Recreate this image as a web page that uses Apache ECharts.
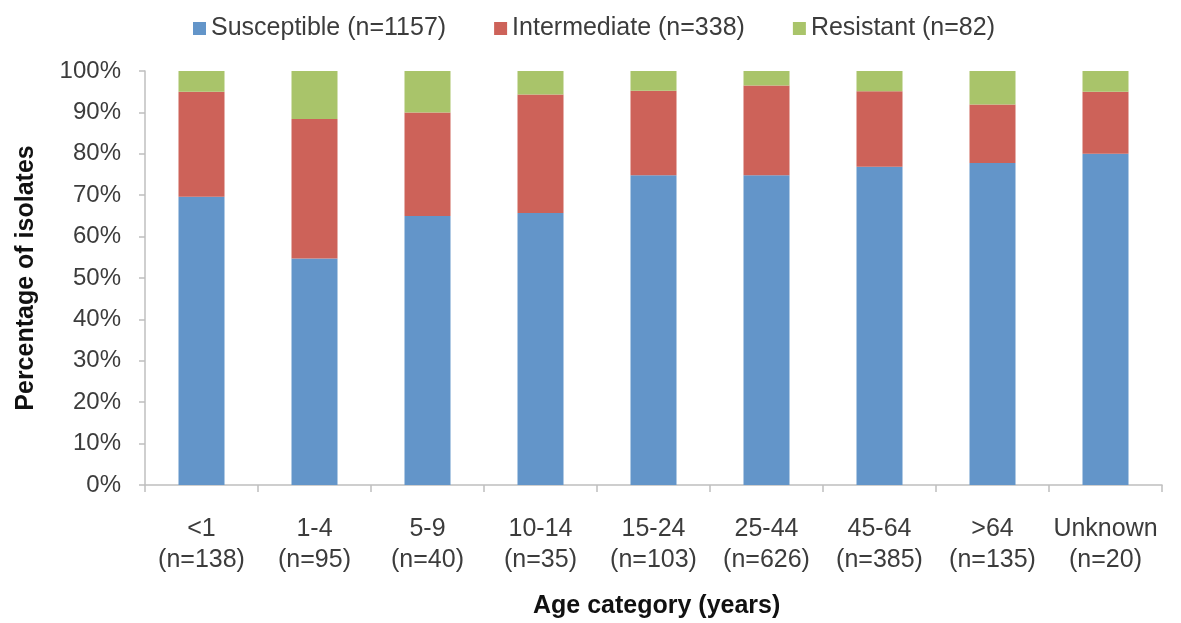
<!DOCTYPE html>
<html>
<head>
<meta charset="utf-8">
<script src="https://cdn.jsdelivr.net/npm/echarts@6/dist/echarts.min.js"></script>
<style>
  html, body { margin: 0; padding: 0; background: #ffffff; }
  #chart { width: 1181px; height: 623px; }
</style>
</head>
<body>
<div id="chart"></div>
<script>
// Age groups and number of isolates tested in each
const ageGroups = ['<1', '1-4', '5-9', '10-14', '15-24', '25-44', '45-64', '>64', 'Unknown'];
const isolateCounts = [138, 95, 40, 35, 103, 626, 385, 135, 20];

// Share of isolates (%) in each susceptibility class
const susceptible  = [69.6, 54.7, 65.0, 65.7, 74.8, 74.8, 76.9, 77.8, 80.0];
const intermediate = [25.4, 33.7, 25.0, 28.6, 20.4, 21.7, 18.2, 14.1, 15.0];
const resistant    = [5.0, 11.6, 10.0, 5.7, 4.8, 3.5, 4.9, 8.1, 5.0];

const seriesNames = ['Susceptible (n=1157)', 'Intermediate (n=338)', 'Resistant (n=82)'];
const seriesColors = ['#6395c9', '#cd6259', '#a9c46a'];
const yTicks = { min: 0, max: 100, step: 10 };

const axisGrey = '#bfbfbf';
const textGrey = '#3c3c3c';
const fontFamily = '"Liberation Sans", Arial, Helvetica, sans-serif';

const categoryLabels = ageGroups.map((g, i) => g + '\n(n=' + isolateCounts[i] + ')');

const chart = echarts.init(document.getElementById('chart'), null, { renderer: 'canvas' });

const makeSeries = (name, values, color) => ({
  name: name,
  type: 'bar',
  stack: 'share',
  barWidth: 46,
  data: values,
  itemStyle: { color: color },
  emphasis: { disabled: true }
});

chart.setOption({
  animation: false,
  backgroundColor: '#ffffff',
  textStyle: { fontFamily: fontFamily },
  legend: {
    left: 188,
    top: 11,
    icon: 'rect',
    itemWidth: 13,
    itemHeight: 13,
    itemGap: 48,
    textStyle: { fontSize: 25, color: textGrey, fontFamily: fontFamily },
    data: seriesNames
  },
  grid: { left: 145, right: 19, top: 71, bottom: 138, containLabel: false },
  xAxis: {
    type: 'category',
    data: categoryLabels,
    axisLine: { show: true, lineStyle: { color: axisGrey, width: 1.5 } },
    axisTick: { show: true, alignWithLabel: false, length: 7, lineStyle: { color: axisGrey, width: 1.5 } },
    axisLabel: {
      interval: 0,
      margin: 29,
      fontSize: 25,
      lineHeight: 31,
      color: textGrey,
      fontFamily: fontFamily
    }
  },
  yAxis: {
    type: 'value',
    min: yTicks.min,
    max: yTicks.max,
    interval: yTicks.step,
    name: 'Percentage of isolates',
    nameLocation: 'middle',
    nameGap: 106,
    nameTextStyle: { fontSize: 25, fontWeight: 'bold', color: '#111111', fontFamily: fontFamily },
    axisLine: { show: true, lineStyle: { color: axisGrey, width: 1.5 } },
    axisTick: { show: true, inside: false, length: 6, lineStyle: { color: axisGrey, width: 1.5 } },
    splitLine: { show: false },
    axisLabel: {
      margin: 24,
      fontSize: 24,
      color: textGrey,
      fontFamily: fontFamily,
      formatter: '{value}%'
    }
  },
  graphic: [{
    type: 'text',
    left: 533,
    top: 594,
    style: {
      text: 'Age category (years)',
      font: 'bold 25px ' + fontFamily,
      fill: '#111111'
    }
  }],
  series: [
    makeSeries(seriesNames[0], susceptible, seriesColors[0]),
    makeSeries(seriesNames[1], intermediate, seriesColors[1]),
    makeSeries(seriesNames[2], resistant, seriesColors[2])
  ]
});
</script>
</body>
</html>
